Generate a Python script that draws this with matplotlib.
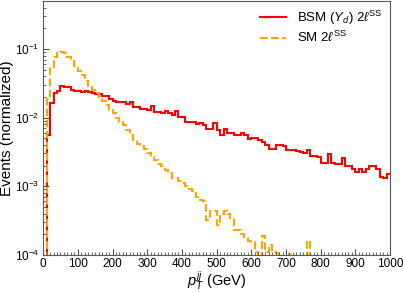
import numpy as np
import matplotlib
matplotlib.use("Agg")
import matplotlib.pyplot as plt
from matplotlib.ticker import MultipleLocator, LogLocator

plt.rcParams['font.family'] = ['Liberation Sans', 'DejaVu Sans']
plt.rcParams['mathtext.fontset'] = 'custom'
plt.rcParams['mathtext.rm'] = 'Liberation Sans'
plt.rcParams['mathtext.it'] = 'Liberation Sans:italic'

# bin edges, 10 GeV wide
edges = np.linspace(0, 1000, 101)

# BSM (Y_d) 2l SS, normalized
bsm = [0, 0.0056, 0.0162, 0.0225, 0.0246, 0.029, 0.028, 0.028, 0.0255, 0.024,
       0.024, 0.0235, 0.024, 0.0235, 0.023, 0.022, 0.022, 0.0205, 0.0205, 0.0187,
       0.0176, 0.0166, 0.0166, 0.0166, 0.0158, 0.0166, 0.0141, 0.0141, 0.0134, 0.0134,
       0.013, 0.0149, 0.012, 0.012, 0.0115, 0.0125, 0.0115, 0.011, 0.0125, 0.0101,
       0.0101, 0.0085, 0.0085, 0.0085, 0.008, 0.0083, 0.0077, 0.0069, 0.0069, 0.0082,
       0.0065, 0.0055, 0.0068, 0.0059, 0.0059, 0.0055, 0.0055, 0.0059, 0.0055, 0.0048,
       0.005, 0.005, 0.0047, 0.0044, 0.004, 0.0035, 0.0035, 0.004, 0.004, 0.0038,
       0.0034, 0.0034, 0.0034, 0.0033, 0.0032, 0.003, 0.0034, 0.0028, 0.0028, 0.0027,
       0.0022, 0.0022, 0.0029, 0.0022, 0.0021, 0.0021, 0.0026, 0.002, 0.002, 0.0018,
       0.0016, 0.0018, 0.0016, 0.0018, 0.002, 0.002, 0.0018, 0.00136, 0.0013, 0.0015]

# SM 2l SS, normalized
sm = [0, 0.0187, 0.054, 0.075, 0.086, 0.09, 0.086, 0.076, 0.067, 0.057,
      0.048, 0.041, 0.034, 0.029, 0.0255, 0.0228, 0.0197, 0.0176, 0.015, 0.013,
      0.0115, 0.0097, 0.0085, 0.0077, 0.0065, 0.0056, 0.0047, 0.0041, 0.0038, 0.0035,
      0.003, 0.0027, 0.0024, 0.0021, 0.002, 0.0017, 0.00156, 0.0013, 0.0013, 0.0012,
      0.0011, 0.001, 0.0009, 0.00085, 0.0007, 0.00063, 0.0006, 0.00032, 0.00044, 0.00043,
      0.00027, 0.0004, 0.00043, 0.0004, 0.00034, 0.00023, 0.00023, 0.0002, 0.00018, 0.00016,
      0.000155, 0.000112, 0, 0.00019, 0.00011, 0.00014, 0.00011, 0.000105, 0, 0,
      0, 0.000102, 0, 0, 0, 0, 0.00016, 0, 0, 0,
      0, 0, 0, 0, 0, 0, 0, 0, 0, 0,
      0, 0, 0, 0, 0, 0, 0, 0, 0, 0]

fig = plt.figure(figsize=(4.03, 2.92), dpi=100)
ax = fig.add_axes([0.107, 0.127, 0.861, 0.870])

# baseline=None -> no closing vertical at 1000
ax.stairs(bsm, edges, baseline=None, color='red', lw=1.5)
ax.stairs(sm, edges, baseline=None, color='orange', lw=1.5, ls='--')

ax.set_yscale('log')
ax.set_xlim(0, 1000)
ax.set_ylim(1e-4, 0.5)
ax.xaxis.set_major_locator(MultipleLocator(100))
ax.xaxis.set_minor_locator(MultipleLocator(10))
ax.yaxis.set_major_locator(LogLocator(base=10, numticks=10))
ax.tick_params(which='both', direction='in', labelsize=8.5, color='0.3', pad=2.5)
ax.tick_params(which='major', length=4)
ax.tick_params(which='minor', length=2, width=0.6)
for s in ax.spines.values():
    s.set_color('0.35')

ax.set_xlabel(r'$p_T^{jj}$ (GeV)', fontsize=10.5, labelpad=-0.5)
ax.set_ylabel('Events (normalized)', fontsize=11, labelpad=1)

# legend with line handles
h1, = ax.plot([], [], color='red', lw=1.5)
h2, = ax.plot([], [], color='orange', lw=1.5, ls='--')
ax.legend([h1, h2], [r'BSM $(Y_d)$ $2\ell^{\rm SS}$', r'SM $2\ell^{\rm SS}$'],
          loc='upper right', frameon=False, fontsize=9.5,
          labelspacing=0.25, borderaxespad=0.2)

fig.savefig('out.png', dpi=100)
